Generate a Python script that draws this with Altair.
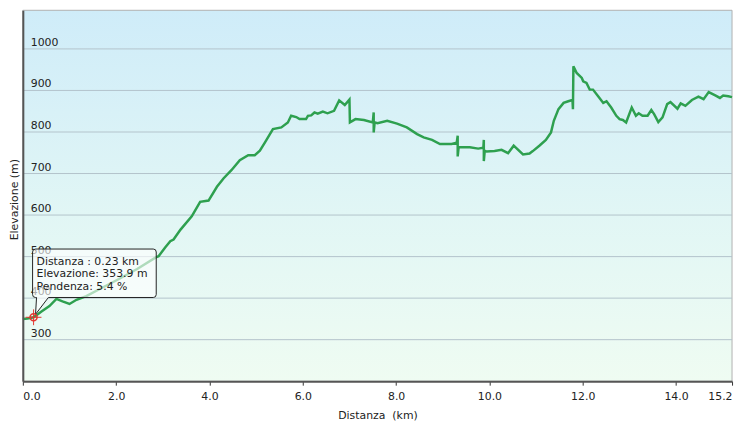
import altair as alt
import pandas as pd

# ---- data ----
dist = [0.00, 0.10, 0.23, 0.40, 0.57, 0.72, 0.85, 1.00, 1.15, 1.36, 1.70, 2.06, 2.45, 2.85,
        2.91, 3.05, 3.16, 3.23, 3.38, 3.62, 3.80, 3.98, 4.16, 4.30, 4.47, 4.65, 4.83, 4.97,
        5.08, 5.19, 5.36, 5.54, 5.68, 5.75, 5.86, 5.93, 6.07, 6.11, 6.18, 6.25, 6.32, 6.43,
        6.53, 6.67, 6.78, 6.90, 7.00, 7.01, 7.13, 7.31, 7.50, 7.52, 7.52, 7.54, 7.60, 7.81,
        8.02, 8.23, 8.45, 8.59, 8.77, 8.94, 9.19, 9.30, 9.32, 9.32, 9.34, 9.37, 9.58, 9.76,
        9.87, 9.88, 9.88, 9.90, 9.94, 10.11, 10.26, 10.40, 10.52, 10.72, 10.86, 10.93, 11.07,
        11.21, 11.32, 11.38, 11.48, 11.59, 11.69, 11.78, 11.79, 11.80, 11.87, 11.98, 12.01,
        12.08, 12.15, 12.22, 12.33, 12.44, 12.51, 12.61, 12.72, 12.79, 12.86, 12.93, 13.05,
        13.14, 13.20, 13.28, 13.39, 13.47, 13.53, 13.62, 13.71, 13.81, 13.88, 14.03, 14.10,
        14.20, 14.34, 14.48, 14.59, 14.70, 14.84, 14.94, 15.01, 15.12, 15.20]
elev = [350, 351, 354, 368, 381, 398, 392, 386, 396, 405, 425, 446, 470, 498,
        501, 522, 537, 541, 565, 597, 632, 635, 668, 688, 708, 732, 744, 744,
        755, 775, 807, 811, 823, 839, 836, 831, 831, 839, 840, 847, 844, 849,
        845, 851, 876, 865, 878, 823, 831, 829, 823, 847, 799, 823, 821, 827,
        820, 811, 795, 787, 781, 771, 771, 774, 791, 741, 763, 763, 763, 760,
        762, 781, 730, 755, 753, 754, 757, 749, 767, 746, 748, 754, 767,
        781, 799, 827, 855, 870, 874, 877, 855, 958, 942, 930, 922,
        918, 902, 902, 886, 870, 874, 859, 839, 831, 829, 823, 859,
        839, 845, 839, 839, 853, 843, 824, 835, 867, 872, 856, 869,
        863, 877, 885, 879, 896, 888, 882, 888, 886, 884]

x_ticks = [0, 2, 4, 6, 8, 10, 12, 14, 15.2]
y_ticks = [300, 400, 500, 600, 700, 800, 900, 1000]

sel_dist = 0.23
sel_elev = 353.9
sel_slope = 5.4
tip_lines = [f"Distanza : {sel_dist:.2f} km",
             f"Elevazione: {sel_elev:.1f} m",
             f"Pendenza: {sel_slope:.1f} %"]

# ---- layout ----
W, H = 717, 375
FONT = "DejaVu Sans"
xs = alt.Scale(domain=[0, 15.2], nice=False, zero=False)
ys = alt.Scale(domain=[200, 1093], nice=False, zero=False)

xaxis = alt.Axis(values=x_ticks, format=".1f", title="Distanza\u00a0 (km)", grid=False,
                 domainColor="#555555", domainWidth=2, tickColor="#333333", tickSize=4,
                 labelFontSize=11, labelFont=FONT, labelColor="#222222", labelFlush=True,
                 labelPadding=6, titleFont=FONT, titleFontSize=11, titleFontWeight="normal",
                 titleColor="#222222", titlePadding=8, zindex=1)
yaxis = alt.Axis(values=y_ticks, labels=False, ticks=False, grid=False,
                 domainColor="#555555", domainWidth=2, title="Elevazione (m)",
                 titleFont=FONT, titleFontSize=11, titleFontWeight="normal",
                 titleColor="#222222", titleAngle=270, titleX=-8, titleY=191,
                 titleAlign="center", titleBaseline="middle", zindex=1)

x_enc = alt.X("d:Q", scale=xs, axis=xaxis)
y_enc = alt.Y("e:Q", scale=ys, axis=yaxis)

df = pd.DataFrame({"d": dist, "e": elev, "i": list(range(len(dist)))})
grid_df = pd.DataFrame({"e": y_ticks})
sel_df = pd.DataFrame({"d": [sel_dist], "e": [sel_elev]})

bg = alt.Chart(pd.DataFrame({"a": [0]})).mark_rect(
    fill=alt.Gradient(gradient="linear",
                      stops=[alt.GradientStop(color="#cfecf9", offset=0),
                             alt.GradientStop(color="#e1f6f5", offset=0.55),
                             alt.GradientStop(color="#effcf2", offset=1)],
                      x1=0, x2=0, y1=0, y2=1),
    stroke="#b0b0b0", strokeWidth=1
).encode(x=alt.value(0), x2=alt.value(W), y=alt.value(0), y2=alt.value(H))

grid = alt.Chart(grid_df).mark_rule(color="#b3c3cb", strokeWidth=1).encode(y=y_enc)

ylabels = alt.Chart(grid_df).mark_text(
    align="left", baseline="alphabetic", dx=8, dy=-3, fontSize=11, font=FONT, color="#222222"
).encode(x=alt.value(0), y=y_enc, text=alt.Text("e:Q", format="d"))

area = alt.Chart(df).mark_area(
    fill="#bff0cf", fillOpacity=0.35, clip=True
).encode(x=x_enc, y=y_enc, y2=alt.datum(200), order="i:Q")

line = alt.Chart(df).mark_line(
    color="#2ea04f", strokeWidth=2.5
).encode(x=x_enc, y=y_enc, order="i:Q")

callout_path = ("M 2,-20 L 3,-20 L 2,-3 L 15,-20 L 121,-20 Q 124,-20 124,-23 "
                "L 124,-66 Q 124,-69 121,-69 L 2,-69 Q -1,-69 -1,-66 L -1,-23 Q -1,-20 2,-20 Z")
callout = alt.Chart(sel_df).mark_point(
    shape=callout_path, size=4, filled=True, fill="white", fillOpacity=0.62,
    stroke="#222222", strokeWidth=1, opacity=1
).encode(x=x_enc, y=y_enc)

ring = alt.Chart(sel_df).mark_point(
    shape="circle", size=50, filled=False, stroke="#e3372f", strokeWidth=1.5, opacity=1
).encode(x=x_enc, y=y_enc)
cross = alt.Chart(sel_df).mark_point(
    shape="M -8,0 L 8,0 M 0,-8 L 0,8", size=4, filled=False, stroke="#e3372f",
    strokeWidth=1, opacity=1
).encode(x=x_enc, y=y_enc)
dot = alt.Chart(sel_df).mark_point(
    shape="circle", size=5, filled=True, color="#e3372f", opacity=1
).encode(x=x_enc, y=y_enc)

tip_layers = []
for k, txt in enumerate(tip_lines):
    tip_layers.append(
        alt.Chart(sel_df).mark_text(
            text=txt, align="left", baseline="alphabetic", dx=3, dy=-53 + 12.6 * k,
            fontSize=11, font=FONT, color="#222222"
        ).encode(x=x_enc, y=y_enc)
    )

chart = alt.layer(bg, grid, area, ylabels, line, callout, *tip_layers, ring, cross, dot).properties(
    width=W, height=H,
    padding={"left": 15, "top": 0, "right": 4, "bottom": 45},
    autosize=alt.AutoSizeParams(type="none"),
).configure(background="white").configure_view(strokeWidth=0)

chart.save("out.html", embed_options={"renderer": "svg", "actions": False})
